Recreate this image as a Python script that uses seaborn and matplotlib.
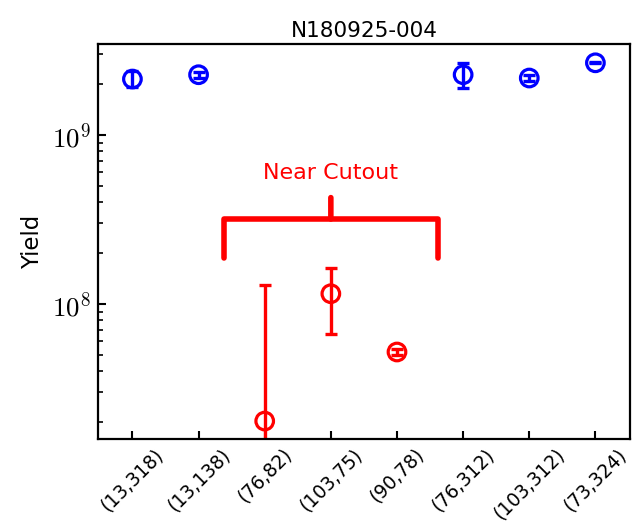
import matplotlib
matplotlib.use("Agg")
import matplotlib.pyplot as plt
import matplotlib.ticker as mticker
import numpy as np
import pandas as pd
import seaborn as sns

# ---- data ----
labels = ["(13,318)", "(13,138)", "(76,82)", "(103,75)", "(90,78)",
          "(76,312)", "(103,312)", "(73,324)"]
yields = [2.14e9, 2.27e9, 2.03e7, 1.15e8, 5.2e7, 2.27e9, 2.17e9, 2.67e9]
err_low = [0.22e9, 0.10e9, 1.5e7, 0.49e8, 0.2e7, 0.37e9, 0.10e9, 0.02e9]
err_high = [0.24e9, 0.10e9, 1.10e8, 0.48e8, 0.2e7, 0.40e9, 0.10e9, 0.02e9]
near_cutout = [False, False, True, True, True, False, False, False]
title = "N180925-004"
ylabel = "Yield"
annot_text = "Near Cutout"

df = pd.DataFrame({"label": labels, "pos": np.arange(len(labels)),
                   "yield": yields, "lo": err_low, "hi": err_high,
                   "group": ["near" if n else "far" for n in near_cutout]})
palette = {"far": "#0000ff", "near": "#ff0000"}

sns.set_style("ticks")
plt.rcParams["font.family"] = ["DejaVu Sans"]
plt.rcParams["mathtext.fontset"] = "cm"
for k in ["text.color", "axes.labelcolor", "xtick.color", "ytick.color",
          "axes.edgecolor"]:
    plt.rcParams[k] = "black"

fig = plt.figure(figsize=(6.42, 5.23), dpi=100)
ax = fig.add_axes([0.1527, 0.1606, 0.8283, 0.7553])

sns.scatterplot(data=df, x="pos", y="yield", hue="group", palette=palette,
                marker="o", s=160, facecolors="none", linewidth=2.3,
                legend=False, ax=ax)
coll = ax.collections[0]
coll.set_facecolor("none")
coll.set_edgecolor([palette[g] for g in df["group"]])

for g, sub in df.groupby("group"):
    ax.errorbar(sub["pos"], sub["yield"], yerr=[sub["lo"], sub["hi"]],
                fmt="none", ecolor=palette[g], elinewidth=2.4, capsize=4,
                capthick=2.4)

ax.set_yscale("log")
ax.set_ylim(1.59e7, 3.45e9)
ax.set_xlim(-0.52, 7.52)
ax.set_xticks(df["pos"])
ax.set_xticklabels(labels, rotation=45, ha="center", fontsize=13.5)
ax.yaxis.set_major_locator(mticker.LogLocator(base=10))
ax.yaxis.set_major_formatter(mticker.FuncFormatter(
    lambda v, p: r"$10^{%d}$" % round(np.log10(v))))
ax.yaxis.set_minor_locator(mticker.LogLocator(base=10, subs=np.arange(2, 10)))
ax.yaxis.set_minor_formatter(mticker.NullFormatter())
ax.tick_params(axis="y", which="major", direction="in", length=6, width=1.5,
               labelsize=19.5, pad=5)
ax.tick_params(axis="y", which="minor", direction="in", length=3.5, width=1.2)
ax.tick_params(axis="x", direction="in", length=6, width=1.5, pad=4)
for s in ax.spines.values():
    s.set_linewidth(1.6)
ax.set_xlabel("")
ax.set_ylabel(ylabel, fontsize=16.5, labelpad=6)
ax.set_title(title, fontsize=15.5, pad=5)

ax.annotate(annot_text, xy=(3, 3.18e8), xytext=(0, 33),
            textcoords="offset points", ha="center", va="center",
            color="#ff0000", fontsize=16,
            arrowprops=dict(arrowstyle="-[, widthB=5.5, lengthB=2.0",
                            lw=4, color="#ff0000", shrinkA=8, shrinkB=0,
                            mutation_scale=14))

fig.savefig("out.png", dpi=100)
